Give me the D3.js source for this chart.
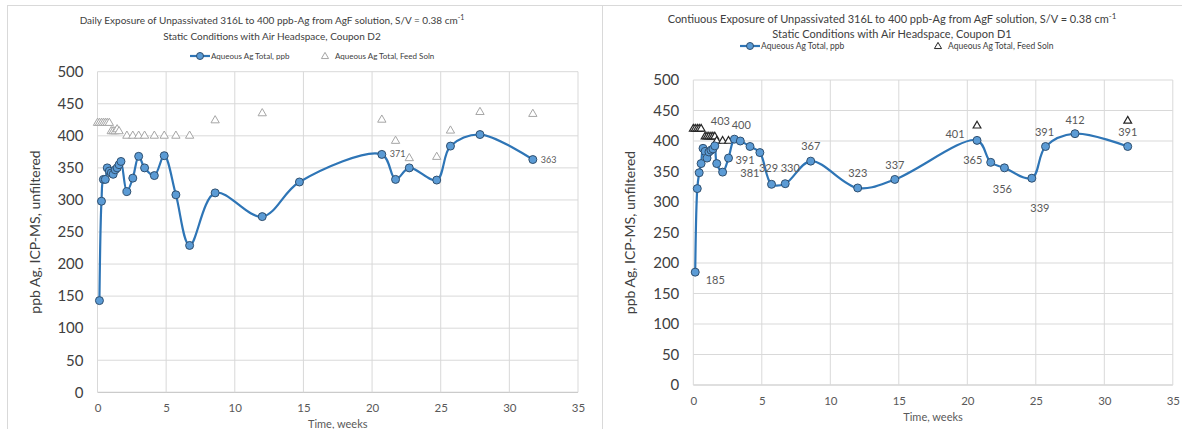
<!DOCTYPE html>
<html>
<head>
<meta charset="utf-8">
<script src="https://cdn.jsdelivr.net/npm/d3@7"></script>
<style>
  body { margin: 0; background: #fff; }
  svg { display: block; font-family: Lato, "Liberation Sans", sans-serif; }
</style>
</head>
<body>
<div id="chart"></div>
<script>
// ---- data ----
const xTicks = [0, 5, 10, 15, 20, 25, 30, 35];
const yTicks = [0, 50, 100, 150, 200, 250, 300, 350, 400, 450, 500];

// Coupon D2 – daily exposure
const weeksD2 = [0.14, 0.29, 0.43, 0.57, 0.71, 0.86, 1.0, 1.14, 1.29, 1.43, 1.57, 1.71, 2.14, 2.57, 3.0, 3.43, 4.14, 4.86, 5.71, 6.71, 8.57, 12.0, 14.71, 20.71, 21.71, 22.71, 24.71, 25.71, 27.86, 31.71];
const ppbD2 = [143, 298, 332, 332, 350, 345, 342, 340, 347, 350, 355, 360, 313, 334, 368, 350, 338, 369, 308, 229, 311, 274, 328, 371, 332, 350, 331, 384, 402, 363];
const feedWeeksD2 = [0, 0.14, 0.29, 0.43, 0.57, 0.71, 0.86, 1.0, 1.14, 1.29, 1.43, 1.57, 2.14, 2.57, 3.0, 3.43, 4.14, 4.86, 5.71, 6.71, 8.57, 12.0, 20.71, 21.71, 22.71, 24.71, 25.71, 27.86, 31.71];
const feedD2 = [420, 420, 420, 420, 420, 420, 420, 407, 407, 407, 410, 407, 400, 400, 400, 400, 400, 400, 400, 400, 424, 435, 425, 392, 365, 367, 408, 437, 434];
const labelIdxD2 = [23, 29];

// Coupon D1 – continuous exposure
const weeksD1 = [0.14, 0.29, 0.43, 0.57, 0.71, 0.86, 1.0, 1.14, 1.29, 1.43, 1.57, 1.71, 2.14, 2.57, 3.0, 3.43, 4.14, 4.86, 5.71, 6.71, 8.57, 12.0, 14.71, 20.71, 21.71, 22.71, 24.71, 25.71, 27.86, 31.71];
const ppbD1 = [185, 322, 348, 363, 388, 383, 372, 382, 385, 387, 392, 363, 349, 372, 403, 400, 391, 381, 329, 330, 367, 323, 337, 401, 365, 356, 339, 391, 412, 391];
const feedWeeksD1 = [0, 0.14, 0.29, 0.43, 0.57, 0.86, 1.0, 1.14, 1.29, 1.43, 1.57, 1.71, 2.14, 2.57, 20.71, 31.71];
const feedD1 = [420, 420, 420, 420, 420, 407, 407, 407, 407, 407, 407, 400, 400, 400, 425, 433];
const labelIdxD1 = [0, 14, 15, 16, 17, 18, 19, 20, 21, 22, 23, 24, 25, 26, 27, 28, 29];

// label placement offsets (dx, dy) per labelled point
const labelPosD2 = [[8, 3], [8, 3]];
const labelPosD1 = [[20, 12], [-14, -14], [1, -12], [-5, 18], [-10, 24], [-3, -12], [5, -12], [0, -11], [0, -11], [0, -10], [-22, -2], [-18, 2], [-2, 25], [8, 34], [-1, -10], [0, -10], [0, -10]];

const svg = d3.select("#chart").append("svg")
  .attr("width", 1182)
  .attr("height", 429);

// chart frames
svg.append("rect").attr("x", 7.5).attr("y", 5.5).attr("width", 595).attr("height", 460)
  .attr("fill", "none").attr("stroke", "#d9d9d9");
svg.append("rect").attr("x", 602.5).attr("y", 5.5).attr("width", 620).attr("height", 460)
  .attr("fill", "none").attr("stroke", "#d9d9d9");

function drawPanel(p) {
  const x = d3.scaleLinear().domain([0, 35]).range([p.left, p.right]);
  const y = d3.scaleLinear().domain([0, 500]).range([p.bottom, p.top]);
  const g = svg.append("g");

  // gridlines
  g.selectAll(".hgrid").data(yTicks).join("line")
    .attr("x1", p.left).attr("x2", p.right)
    .attr("y1", d => y(d)).attr("y2", d => y(d))
    .attr("stroke", d => d === 0 ? "#bfbfbf" : "#d9d9d9").attr("stroke-width", 1);
  g.selectAll(".vgrid").data(xTicks).join("line")
    .attr("x1", d => x(d)).attr("x2", d => x(d))
    .attr("y1", p.top).attr("y2", p.bottom)
    .attr("stroke", "#d9d9d9").attr("stroke-width", 1);

  // axes (labels only)
  const yAxis = g.append("g")
    .attr("transform", `translate(${p.left},0)`)
    .call(d3.axisLeft(y).tickValues(yTicks).tickSize(0).tickPadding(14));
  yAxis.select(".domain").remove();
  yAxis.selectAll("text").attr("fill", "#404040").style("font-size", "15px")
    .style("font-family", "Lato, sans-serif");

  const xAxis = g.append("g")
    .attr("transform", `translate(0,${p.bottom})`)
    .call(d3.axisBottom(x).tickValues(xTicks).tickSize(0).tickPadding(12));
  xAxis.select(".domain").remove();
  xAxis.selectAll("text").attr("fill", "#595959").style("font-size", "11.5px")
    .style("font-family", "Lato, sans-serif");

  // axis titles
  g.append("text")
    .attr("transform", `translate(${p.left - 58},${(p.top + p.bottom) / 2}) rotate(-90)`)
    .attr("text-anchor", "middle").attr("fill", "#404040")
    .style("font-size", "14px")
    .text("ppb Ag, ICP-MS, unfiltered");
  g.append("text")
    .attr("x", (p.left + p.right) / 2).attr("y", p.bottom + 36)
    .attr("text-anchor", "middle").attr("fill", "#595959")
    .style("font-size", "11px")
    .text("Time, weeks");

  // titles
  const t1 = g.append("text")
    .attr("x", p.titleX).attr("y", p.titleY)
    .attr("text-anchor", "middle").attr("fill", "#404040")
    .style("font-size", p.titleSize + "px");
  t1.append("tspan").text(p.title + " cm");
  t1.append("tspan").attr("dy", -4).style("font-size", (p.titleSize - 3) + "px").text("-1");
  g.append("text")
    .attr("x", p.titleX).attr("y", p.titleY + p.titleGap)
    .attr("text-anchor", "middle").attr("fill", "#404040")
    .style("font-size", p.titleSize + "px")
    .text(p.subtitle);

  // legend
  const lg = g.append("g").attr("transform", `translate(${p.legendX},${p.legendY})`);
  lg.append("line").attr("x1", 0).attr("x2", 20).attr("y1", 0).attr("y2", 0)
    .attr("stroke", "#2e75b6").attr("stroke-width", 2.2);
  lg.append("circle").attr("cx", 10).attr("cy", 0).attr("r", 3.5)
    .attr("fill", "#5b9bd5").attr("stroke", "#2f4f6f").attr("stroke-width", 1);
  lg.append("text").attr("x", 21).attr("y", 3).attr("fill", "#404040")
    .style("font-size", p.legendSize + "px").text("Aqueous Ag Total, ppb");
  lg.append("path")
    .attr("transform", `translate(${p.legendGap},0.5)`)
    .attr("d", d3.symbol(d3.symbolTriangle, 22)())
    .attr("fill", "#fff").attr("stroke", p.triStroke).attr("stroke-width", 1);
  lg.append("text").attr("x", p.legendGap + 10).attr("y", 3).attr("fill", "#404040")
    .style("font-size", p.legendSize + "px").text("Aqueous Ag Total, Feed Soln");

  // feed solution triangles
  g.selectAll(".feed").data(p.feedWeeks).join("path")
    .attr("transform", (d, i) => `translate(${x(d)},${y(p.feed[i])})`)
    .attr("d", d3.symbol(d3.symbolTriangle, p.triSize)())
    .attr("fill", "#fff").attr("stroke", p.triStroke).attr("stroke-width", p.triWidth);

  // aqueous series
  const pts = p.weeks.map((w, i) => [x(w), y(p.ppb[i])]);
  g.append("path")
    .attr("d", d3.line().curve(d3.curveCatmullRom.alpha(0.5))(pts))
    .attr("fill", "none").attr("stroke", "#2e75b6").attr("stroke-width", 2.2);
  g.selectAll(".pt").data(pts).join("circle")
    .attr("cx", d => d[0]).attr("cy", d => d[1]).attr("r", 4)
    .attr("fill", "#5b9bd5").attr("stroke", "#2f4f6f").attr("stroke-width", 1);

  // data labels
  g.selectAll(".lbl").data(p.labelIdx).join("text")
    .attr("x", (d, k) => pts[d][0] + p.labelPos[k][0])
    .attr("y", (d, k) => pts[d][1] + p.labelPos[k][1])
    .attr("text-anchor", p.labelAnchor).attr("fill", "#595959")
    .style("font-size", p.labelSize + "px")
    .text(d => p.ppb[d]);
}

drawPanel({
  left: 97.5, right: 578, top: 71.7, bottom: 392.3,
  weeks: weeksD2, ppb: ppbD2, feedWeeks: feedWeeksD2, feed: feedD2,
  labelIdx: labelIdxD2, labelPos: labelPosD2, labelAnchor: "start", labelSize: 9,
  title: "Daily Exposure of Unpassivated 316L to 400 ppb-Ag from AgF solution, S/V = 0.38",
  subtitle: "Static Conditions with Air Headspace, Coupon D2",
  titleX: 272, titleY: 24, titleGap: 16, titleSize: 10,
  legendX: 190, legendY: 56, legendGap: 135, legendSize: 8,
  triSize: 30, triStroke: "#a6a6a6", triWidth: 1
});

drawPanel({
  left: 693.3, right: 1172.8, top: 80, bottom: 385,
  weeks: weeksD1, ppb: ppbD1, feedWeeks: feedWeeksD1, feed: feedD1,
  labelIdx: labelIdxD1, labelPos: labelPosD1, labelAnchor: "middle", labelSize: 11,
  title: "Contiuous Exposure of Unpassivated 316L to 400 ppb-Ag from AgF solution, S/V = 0.38",
  subtitle: "Static Conditions with Air Headspace, Coupon D1",
  titleX: 892, titleY: 23, titleGap: 15, titleSize: 11,
  legendX: 740, legendY: 46, legendGap: 198, legendSize: 8.5,
  triSize: 26, triStroke: "#262626", triWidth: 1.2
});
</script>
</body>
</html>
